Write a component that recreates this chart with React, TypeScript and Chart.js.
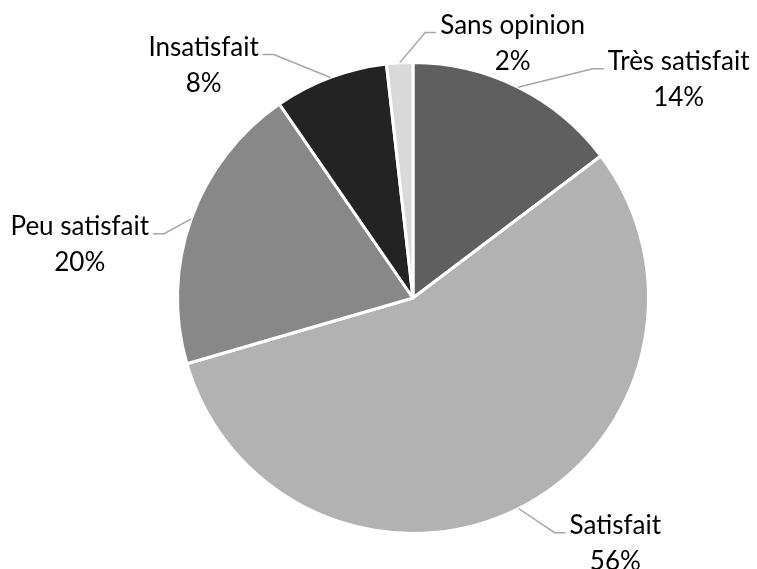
import React, { useEffect, useRef } from "react";
import { Chart, registerables } from "chart.js";

Chart.register(...registerables);

const categories = ["Très satisfait", "Satisfait", "Peu satisfait", "Insatisfait", "Sans opinion"];
const values = [14.7, 55.8, 19.9, 7.8, 1.8];
const percentLabels = ["14%", "56%", "20%", "8%", "2%"];
const colors = ["#5f5f5f", "#b2b2b2", "#888888", "#232323", "#d9d9d9"];
// label block centre, relative to pie centre, in units of radius; side of pie
const labelPlacement: [number, number, "right" | "left"][] = [
  [1.128, -0.927, "right"],
  [0.859, 1.043, "right"],
  [-1.415, -0.226, "left"],
  [-0.889, -0.987, "left"],
  [0.423, -1.081, "right"],
];

const FONT = "26px Lato, 'Open Sans', sans-serif";
const LINE_H = 36;

const leaderPlugin = {
  id: "leaderLabels",
  afterDraw(chart: any) {
    const ctx = chart.ctx;
    const meta = chart.getDatasetMeta(0);
    ctx.save();
    ctx.font = FONT;
    meta.data.forEach((arc: any, i: number) => {
      const { x, y, startAngle, endAngle, outerRadius } = arc.getProps(
        ["x", "y", "startAngle", "endAngle", "outerRadius"],
        true
      );
      const mid = (startAngle + endAngle) / 2;
      const ax = x + Math.cos(mid) * outerRadius;
      const ay = y + Math.sin(mid) * outerRadius;
      const [ox, oy, side] = labelPlacement[i];
      const cx = x + ox * outerRadius;
      const cy = y + oy * outerRadius;
      const y1 = cy - LINE_H / 2;
      const y2 = cy + LINE_H / 2;
      const w = ctx.measureText(categories[i]).width;
      const edge = side === "right" ? cx - w / 2 : cx + w / 2;
      const ly = y1 + 7;
      const endX = side === "right" ? edge - 4 : edge + 4;
      const elbowX = side === "right" ? endX - 11 : endX + 11;
      ctx.strokeStyle = "#a6a6a6";
      ctx.lineWidth = 1.5;
      ctx.beginPath();
      ctx.moveTo(ax, ay);
      ctx.lineTo(elbowX, ly);
      ctx.lineTo(endX, ly);
      ctx.stroke();
      ctx.fillStyle = "#000000";
      ctx.textAlign = "center";
      ctx.textBaseline = "middle";
      ctx.fillText(categories[i], cx, y1);
      ctx.fillText(percentLabels[i], cx, y2);
    });
    ctx.restore();
  },
};

export default function App() {
  const ref = useRef<HTMLCanvasElement>(null);
  useEffect(() => {
    const chart = new Chart(ref.current!, {
      type: "pie",
      data: {
        labels: categories,
        datasets: [
          {
            data: values,
            backgroundColor: colors,
            borderColor: "#ffffff",
            borderWidth: 3,
          },
        ],
      },
      options: {
        animation: false,
        responsive: true,
        maintainAspectRatio: false,
        layout: { padding: { top: 61, bottom: 34, left: 176, right: 107 } },
        plugins: {
          legend: { display: false },
          tooltip: { enabled: false },
        },
      },
      plugins: [leaderPlugin],
    });
    return () => chart.destroy();
  }, []);
  return (
    <div style={{ position: "fixed", left: 0, top: 0, width: 757, height: 569, background: "#fff" }}>
      <canvas ref={ref} />
    </div>
  );
}
